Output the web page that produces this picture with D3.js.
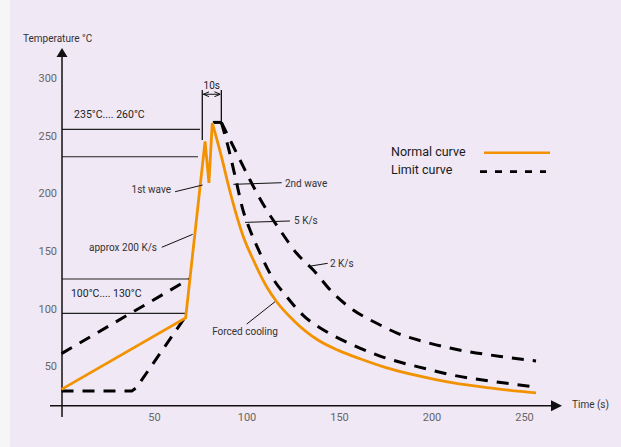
<!DOCTYPE html>
<html>
<head>
<meta charset="utf-8">
<script src="https://cdnjs.cloudflare.com/ajax/libs/d3/7.8.5/d3.min.js"></script>
<style>
  body { margin: 0; background: #f6f6f7; }
  svg { display: block; }
  text { font-family: Roboto, "DejaVu Sans", sans-serif; }
</style>
</head>
<body>
<div id="chart"></div>
<script>
// axis ticks
var xTicks = [50, 100, 150, 200, 250];
var yTicks = [50, 100, 150, 200, 250, 300];

// normal curve [time s, temp C]: preheat, 1st wave, 2nd wave, then cooling
var normalRise = [[0, 30], [67.1, 92], [77.6, 245], [79.7, 209], [81.5, 261]];
var normalFall = [[81.5, 261], [86.9, 229], [90.2, 207], [93.8, 185.5], [98.3, 162.4], [103.7, 142.2],
    [110.9, 119], [116.3, 106], [125.3, 90], [138.6, 72.8], [150, 63.6], [161.4, 56.5], [175, 49],
    [203, 38.3], [230, 31.5], [256.5, 27]];

// limit curves: preheat part, 10 s at the top, then 5 K/s and 2 K/s cooling
var limitLowRise = [[0, 28.5], [38, 28.5], [40.5, 31.5], [68.3, 96]];
var limitHighRise = [[0, 61], [69.1, 125.7]];
var limitTop = [[81.8, 261.5], [86.4, 261.5]];
var limitFast = [[86.4, 261.5], [90.5, 237.6], [94.3, 211.5], [98.1, 185.5], [101.9, 168.2], [107.3, 148.2],
    [113.8, 127.4], [121.9, 110], [130.5, 94.4], [143.5, 79.7], [157.6, 68.4], [172.2, 58.9], [197.6, 47.6],
    [209.5, 43], [239.7, 35.5], [256.5, 32]];
var limitSlow = [[86.4, 261.5], [96.5, 228.9], [101.9, 211.5], [110.9, 185.5], [118.1, 168.2], [127.1, 148],
    [136.1, 133.5], [146.9, 113.3], [157.7, 98.8], [170.4, 87.3], [181.4, 78.8], [198.6, 70.2], [210, 65.8],
    [239.7, 58], [256.5, 54.6]];

// temperature windows: level and where the line stops
var levelValues = [255.5, 231.7, 125.7, 95.9];
var levelEnds = [74.9, 73.8, 69.5, 67.3];
var windowLabels = ["235°C.... 260°C", "100°C.... 130°C"];
var windowLabelPos = [[6.8, 268.8], [5.1, 113.5]];

// dwell time marker
var dwellStart = 76.1, dwellEnd = 86.4;

// annotations: text, leader from, leader to, text pos, anchor
var notes = [
    {text: "1st wave", from: [61.4, 201.4], to: [76.3, 207.2], at: [59.2, 203.7], anchor: "end"},
    {text: "approx 200 K/s", from: [54.2, 153.2], to: [70.9, 164.4], at: [51.6, 152.6], anchor: "end"},
    {text: "2nd wave", from: [92.9, 207.8], to: [119, 209.2], at: [120.8, 208.4], anchor: "start"},
    {text: "5 K/s", from: [99.2, 174.8], to: [123.5, 176], at: [125.7, 176], anchor: "start"},
    {text: "2 K/s", from: [134.9, 137], to: [143.9, 139.3], at: [145.1, 139.3], anchor: "start"},
    {text: "Forced cooling", from: [115.4, 106], to: [100.1, 86.6], at: [99.2, 80.6], anchor: "middle"}
];

var orange = "#f39200";

var svg = d3.select("#chart")
    .append("svg")
    .attr("width", 621)
    .attr("height", 447);

svg.append("rect")
    .attr("x", 10).attr("y", 0)
    .attr("width", 611).attr("height", 447)
    .attr("fill", "#f0e8f5");

var x = d3.scaleLinear().domain([0, 250]).range([61.5, 524]);
var y = d3.scaleLinear().domain([50, 300]).range([366.3, 78]);

var axisY = 405.7;
var axisX = 62;

// temperature window lines
svg.selectAll(".level")
    .data(levelValues)
    .enter().append("line")
    .attr("class", "level")
    .attr("x1", axisX)
    .attr("x2", function(d, i) { return x(levelEnds[i]); })
    .attr("y1", function(d) { return y(d); })
    .attr("y2", function(d) { return y(d); })
    .attr("stroke", "#222")
    .attr("stroke-width", 1.2);

svg.selectAll(".wlabel")
    .data(windowLabels)
    .enter().append("text")
    .attr("x", function(d, i) { return x(windowLabelPos[i][0]); })
    .attr("y", function(d, i) { return y(windowLabelPos[i][1]); })
    .attr("dy", "0.35em")
    .attr("font-size", 10.5)
    .attr("fill", "#222")
    .text(function(d) { return d; });

// axes
var xAxis = d3.axisBottom(x).tickValues(xTicks).tickSize(0).tickPadding(8);
var yAxis = d3.axisLeft(y).tickValues(yTicks).tickSize(0).tickPadding(5);

var gx = svg.append("g").attr("transform", "translate(0," + axisY + ")").call(xAxis);
var gy = svg.append("g").attr("transform", "translate(" + axisX + ",0)").call(yAxis);
[gx, gy].forEach(function(g) {
    g.select(".domain").remove();
    g.selectAll("text").attr("font-size", 11).attr("fill", "#666").attr("font-family", "Roboto, sans-serif");
});

svg.append("line")
    .attr("x1", 50).attr("x2", 556)
    .attr("y1", axisY).attr("y2", axisY)
    .attr("stroke", "#111").attr("stroke-width", 1.5);
svg.append("path")
    .attr("d", "M562," + axisY + "L551," + (axisY - 5.5) + "L551," + (axisY + 5.5) + "Z")
    .attr("fill", "#111");
svg.append("line")
    .attr("x1", axisX).attr("x2", axisX)
    .attr("y1", 417).attr("y2", 54)
    .attr("stroke", "#111").attr("stroke-width", 1.5);
svg.append("path")
    .attr("d", "M" + axisX + ",48L" + (axisX - 5.5) + ",57L" + (axisX + 5.5) + ",57Z")
    .attr("fill", "#111");

svg.append("text")
    .attr("x", 23).attr("y", 38)
    .attr("dy", "0.35em")
    .attr("font-size", 10)
    .attr("fill", "#333")
    .text("Temperature °C");
svg.append("text")
    .attr("x", 572).attr("y", 404)
    .attr("dy", "0.35em")
    .attr("font-size", 10)
    .attr("fill", "#333")
    .text("Time (s)");

// 10s dwell marker
svg.append("line")
    .attr("x1", x(dwellStart)).attr("x2", x(dwellStart))
    .attr("y1", y(289.6)).attr("y2", y(246.2))
    .attr("stroke", "#111").attr("stroke-width", 1.3);
svg.append("line")
    .attr("x1", x(dwellEnd)).attr("x2", x(dwellEnd))
    .attr("y1", y(289.6)).attr("y2", y(261.5))
    .attr("stroke", "#111").attr("stroke-width", 1.3);
svg.append("defs").append("marker")
    .attr("id", "ah")
    .attr("viewBox", "0 0 6 6")
    .attr("refX", 6).attr("refY", 3)
    .attr("markerWidth", 6).attr("markerHeight", 6)
    .attr("orient", "auto-start-reverse")
    .append("path")
    .attr("d", "M0,0.5L6,3L0,5.5")
    .attr("fill", "none")
    .attr("stroke", "#111")
    .attr("stroke-width", 1);
svg.append("line")
    .attr("x1", x(dwellStart) + 1).attr("x2", x(dwellEnd) - 1)
    .attr("y1", y(285.9)).attr("y2", y(285.9))
    .attr("stroke", "#111").attr("stroke-width", 1)
    .attr("marker-start", "url(#ah)")
    .attr("marker-end", "url(#ah)");
svg.append("text")
    .attr("x", x((dwellStart + dwellEnd) / 2)).attr("y", 85)
    .attr("dy", "0.35em")
    .attr("text-anchor", "middle")
    .attr("font-size", 10)
    .attr("fill", "#222")
    .text("10s");

// curves
var straight = d3.line().x(function(d) { return x(d[0]); }).y(function(d) { return y(d[1]); });
var smooth = d3.line().x(function(d) { return x(d[0]); }).y(function(d) { return y(d[1]); }).curve(d3.curveMonotoneX);

[[limitLowRise, straight], [limitHighRise, straight], [limitTop, straight], [limitFast, smooth], [limitSlow, smooth]].forEach(function(c) {
    svg.append("path")
        .attr("d", c[1](c[0]))
        .attr("fill", "none")
        .attr("stroke", "#000")
        .attr("stroke-width", 3)
        .attr("stroke-dasharray", "12,9");
});

[[normalRise, straight], [normalFall, smooth]].forEach(function(c) {
    svg.append("path")
        .attr("d", c[1](c[0]))
        .attr("fill", "none")
        .attr("stroke", orange)
        .attr("stroke-width", 2.8)
        .attr("stroke-linejoin", "miter");
});

// annotations
var note = svg.selectAll(".note").data(notes).enter().append("g").attr("class", "note");
note.append("line")
    .attr("x1", function(d) { return x(d.from[0]); })
    .attr("y1", function(d) { return y(d.from[1]); })
    .attr("x2", function(d) { return x(d.to[0]); })
    .attr("y2", function(d) { return y(d.to[1]); })
    .attr("stroke", "#111")
    .attr("stroke-width", 1);
note.append("text")
    .attr("x", function(d) { return x(d.at[0]); })
    .attr("y", function(d) { return y(d.at[1]); })
    .attr("dy", "0.35em")
    .attr("text-anchor", function(d) { return d.anchor; })
    .attr("font-size", 10)
    .attr("fill", "#333")
    .text(function(d) { return d.text; });

// legend
var legend = svg.append("g").attr("transform", "translate(391,0)");
legend.append("text")
    .attr("x", 0).attr("y", 152)
    .attr("dy", "0.35em")
    .attr("font-size", 12.5)
    .attr("font-family", "'Open Sans', sans-serif")
    .attr("fill", "#1a1a1a")
    .text("Normal curve");
legend.append("text")
    .attr("x", 0).attr("y", 169.5)
    .attr("dy", "0.35em")
    .attr("font-size", 12.5)
    .attr("font-family", "'Open Sans', sans-serif")
    .attr("fill", "#1a1a1a")
    .text("Limit curve");
legend.append("line")
    .attr("x1", 93).attr("x2", 159)
    .attr("y1", 152.7).attr("y2", 152.7)
    .attr("stroke", orange).attr("stroke-width", 2.5);
legend.append("line")
    .attr("x1", 89).attr("x2", 155)
    .attr("y1", 171.7).attr("y2", 171.7)
    .attr("stroke", "#000").attr("stroke-width", 2.8)
    .attr("stroke-dasharray", "7,8");
</script>
</body>
</html>
